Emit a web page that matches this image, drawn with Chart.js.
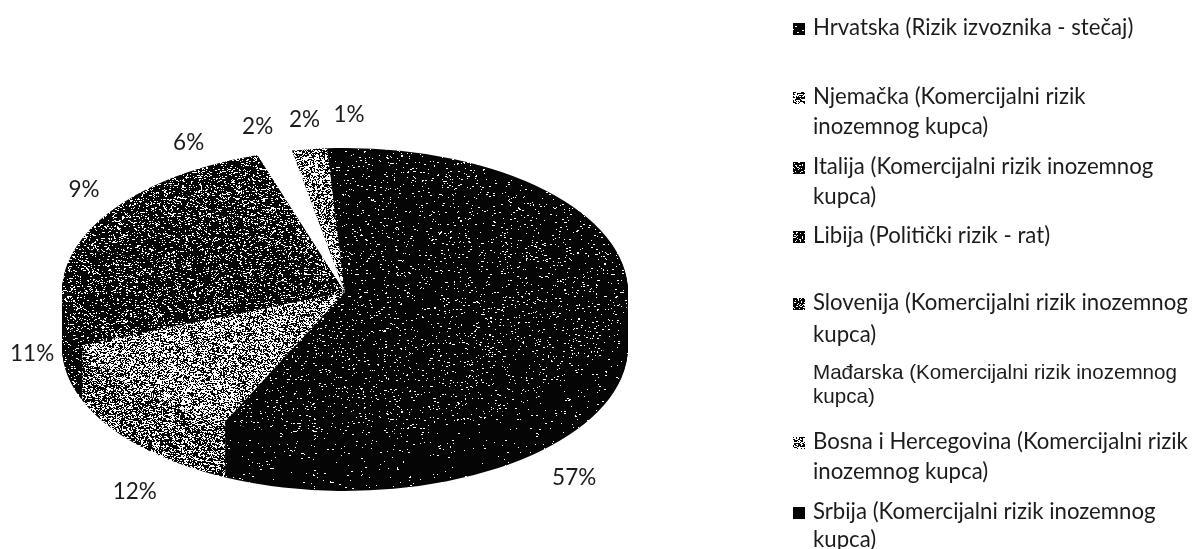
<!DOCTYPE html>
<html>
<head>
<meta charset="utf-8">
<title>Rizici po zemljama</title>
<script src="https://cdn.jsdelivr.net/npm/chart.js@4/dist/chart.umd.js"></script>
<style>
	html, body { margin: 0; padding: 0; background: #fff; }
	canvas { display: block; }
</style>
</head>
<body>
<canvas id="pie" width="1194" height="549"></canvas>
<script>
// Chart data
const categories = [
	'Hrvatska (Rizik izvoznika - stečaj)',
	'Njemačka (Komercijalni rizik inozemnog kupca)',
	'Italija (Komercijalni rizik inozemnog kupca)',
	'Libija (Politički rizik - rat)',
	'Slovenija (Komercijalni rizik inozemnog kupca)',
	'Mađarska (Komercijalni rizik inozemnog kupca)',
	'Bosna i Hercegovina (Komercijalni rizik inozemnog kupca)',
	'Srbija (Komercijalni rizik inozemnog kupca)',
];
const shares = [57, 12, 11, 9, 6, 2, 2, 1];
const legendLines = [
	['Hrvatska (Rizik izvoznika - stečaj)'],
	['Njemačka (Komercijalni rizik', 'inozemnog kupca)'],
	['Italija (Komercijalni rizik inozemnog', 'kupca)'],
	['Libija (Politički rizik - rat)'],
	['Slovenija (Komercijalni rizik inozemnog', 'kupca)'],
	['Mađarska (Komercijalni rizik inozemnog', 'kupca)'],
	['Bosna i Hercegovina (Komercijalni rizik', 'inozemnog kupca)'],
	['Srbija (Komercijalni rizik inozemnog', 'kupca)'],
];

// Layout of the picture
const ellipse = { x: 345, y: 292, rx: 283, ry: 144, depth: 55 };
const labelNudge = [[-47, 154], [-4, 101], [-30, 57], [-27, -21], [-20, -23], [-17, -26], [-5, -29], [13, -33]];
const legendY = [[28], [97, 127], [167, 197], [236], [303, 335], [373, 397], [442, 472], [512, 540]];
const legendX = 813;
const swatchX = 793;
const swatchSize = 12;
const textFont = '22.5px Lato';
const legendFont = '22.2px Lato';
const hungaryFont = '20.6px "Liberation Sans"';

// Share of white specks in the scanned halftone, per slice
const topInk = [0.035, 0.46, 0.13, 0.14, 0.17, 0, 0.45, 0.02];
const sideInk = [0.012, 0.32, 0.08, 0.08, 0.08, 0, 0.3, 0.005];

function speckle(ink, seed) {
	const size = 256;
	const tile = document.createElement('canvas');
	tile.width = size;
	tile.height = size;
	const g = tile.getContext('2d');
	g.fillStyle = ink === 0 ? '#fff' : '#050505';
	g.fillRect(0, 0, size, size);
	if (ink > 0) {
		let state = seed;
		const next = () => {
			state = (state * 1664525 + 1013904223) >>> 0;
			return (state >>> 8) / 16777216;
		};
		g.fillStyle = '#fff';
		for (let y = 0; y < size; y++) {
			for (let x = 0; x < size; x++) {
				if (next() < ink) {
					// some grains are two pixels wide, like the scan
					g.fillRect(x, y, next() < 0.3 ? 2 : 1, 1);
				}
			}
		}
	}
	const ctx = document.getElementById('pie').getContext('2d');
	ctx.imageSmoothingEnabled = false;
	return ctx.createPattern(tile, 'repeat');
}

const topPatterns = topInk.map((ink, i) => speckle(ink, 17 + i * 31));
const sidePatterns = sideInk.map((ink, i) => speckle(ink, 401 + i * 57));

function fillArcs(chart, patterns, drop) {
	const ctx = chart.ctx;
	const arcs = chart.getDatasetMeta(0).data;
	const sx = ellipse.rx / arcs[0].outerRadius;
	const sy = ellipse.ry / arcs[0].outerRadius;
	ctx.save();
	ctx.imageSmoothingEnabled = false;
	ctx.translate(ellipse.x, ellipse.y + drop);
	ctx.scale(sx, sy);
	ctx.translate(-arcs[0].x, -arcs[0].y);
	arcs.forEach((arc, i) => {
		// keep the grain one device pixel big and not dragged down by the drop
		patterns[i].setTransform(new DOMMatrix().scale(1 / sx, 1 / sy).translate(0, -drop));
		arc.options.backgroundColor = patterns[i];
		arc.draw(ctx);
	});
	ctx.restore();
}

// Tilts the library's arcs and stacks them into a disc
const discPlugin = {
	id: 'disc',
	beforeDatasetsDraw(chart) {
		for (let drop = ellipse.depth; drop > 0; drop--) {
			fillArcs(chart, sidePatterns, drop);
		}
		fillArcs(chart, topPatterns, 0);
		return false;
	},
};

const textPlugin = {
	id: 'texts',
	afterDraw(chart) {
		const ctx = chart.ctx;
		const arcs = chart.getDatasetMeta(0).data;
		ctx.save();
		ctx.fillStyle = '#1c1c1c';
		ctx.textBaseline = 'middle';

		// percentage labels, from each slice's middle on the rim
		ctx.font = textFont;
		ctx.textAlign = 'center';
		arcs.forEach((arc, i) => {
			const mid = (arc.startAngle + arc.endAngle) / 2;
			const x = ellipse.x + Math.cos(mid) * ellipse.rx + labelNudge[i][0];
			const y = ellipse.y + Math.sin(mid) * ellipse.ry + labelNudge[i][1];
			ctx.fillText(shares[i] + '%', x, y);
		});

		// legend
		ctx.textAlign = 'left';
		legendLines.forEach((lines, i) => {
			ctx.font = i === 5 ? hungaryFont : legendFont;
			lines.forEach((line, j) => {
				ctx.fillText(line, legendX, legendY[i][j]);
			});
			if (i !== 5) {
				ctx.save();
				topPatterns[i].setTransform(new DOMMatrix());
				ctx.fillStyle = i === 7 ? '#050505' : topPatterns[i];
				ctx.fillRect(swatchX, legendY[i][0] - 5, swatchSize, swatchSize);
				ctx.restore();
			}
		});
		ctx.restore();
	},
};

new Chart(document.getElementById('pie'), {
	type: 'pie',
	data: {
		labels: categories,
		datasets: [{ data: shares, backgroundColor: topPatterns, borderWidth: 0 }],
	},
	options: {
		responsive: false,
		animation: false,
		layout: { padding: { right: 645 } },
		plugins: { legend: { display: false }, tooltip: { enabled: false } },
	},
	plugins: [discPlugin, textPlugin],
});
</script>
</body>
</html>
